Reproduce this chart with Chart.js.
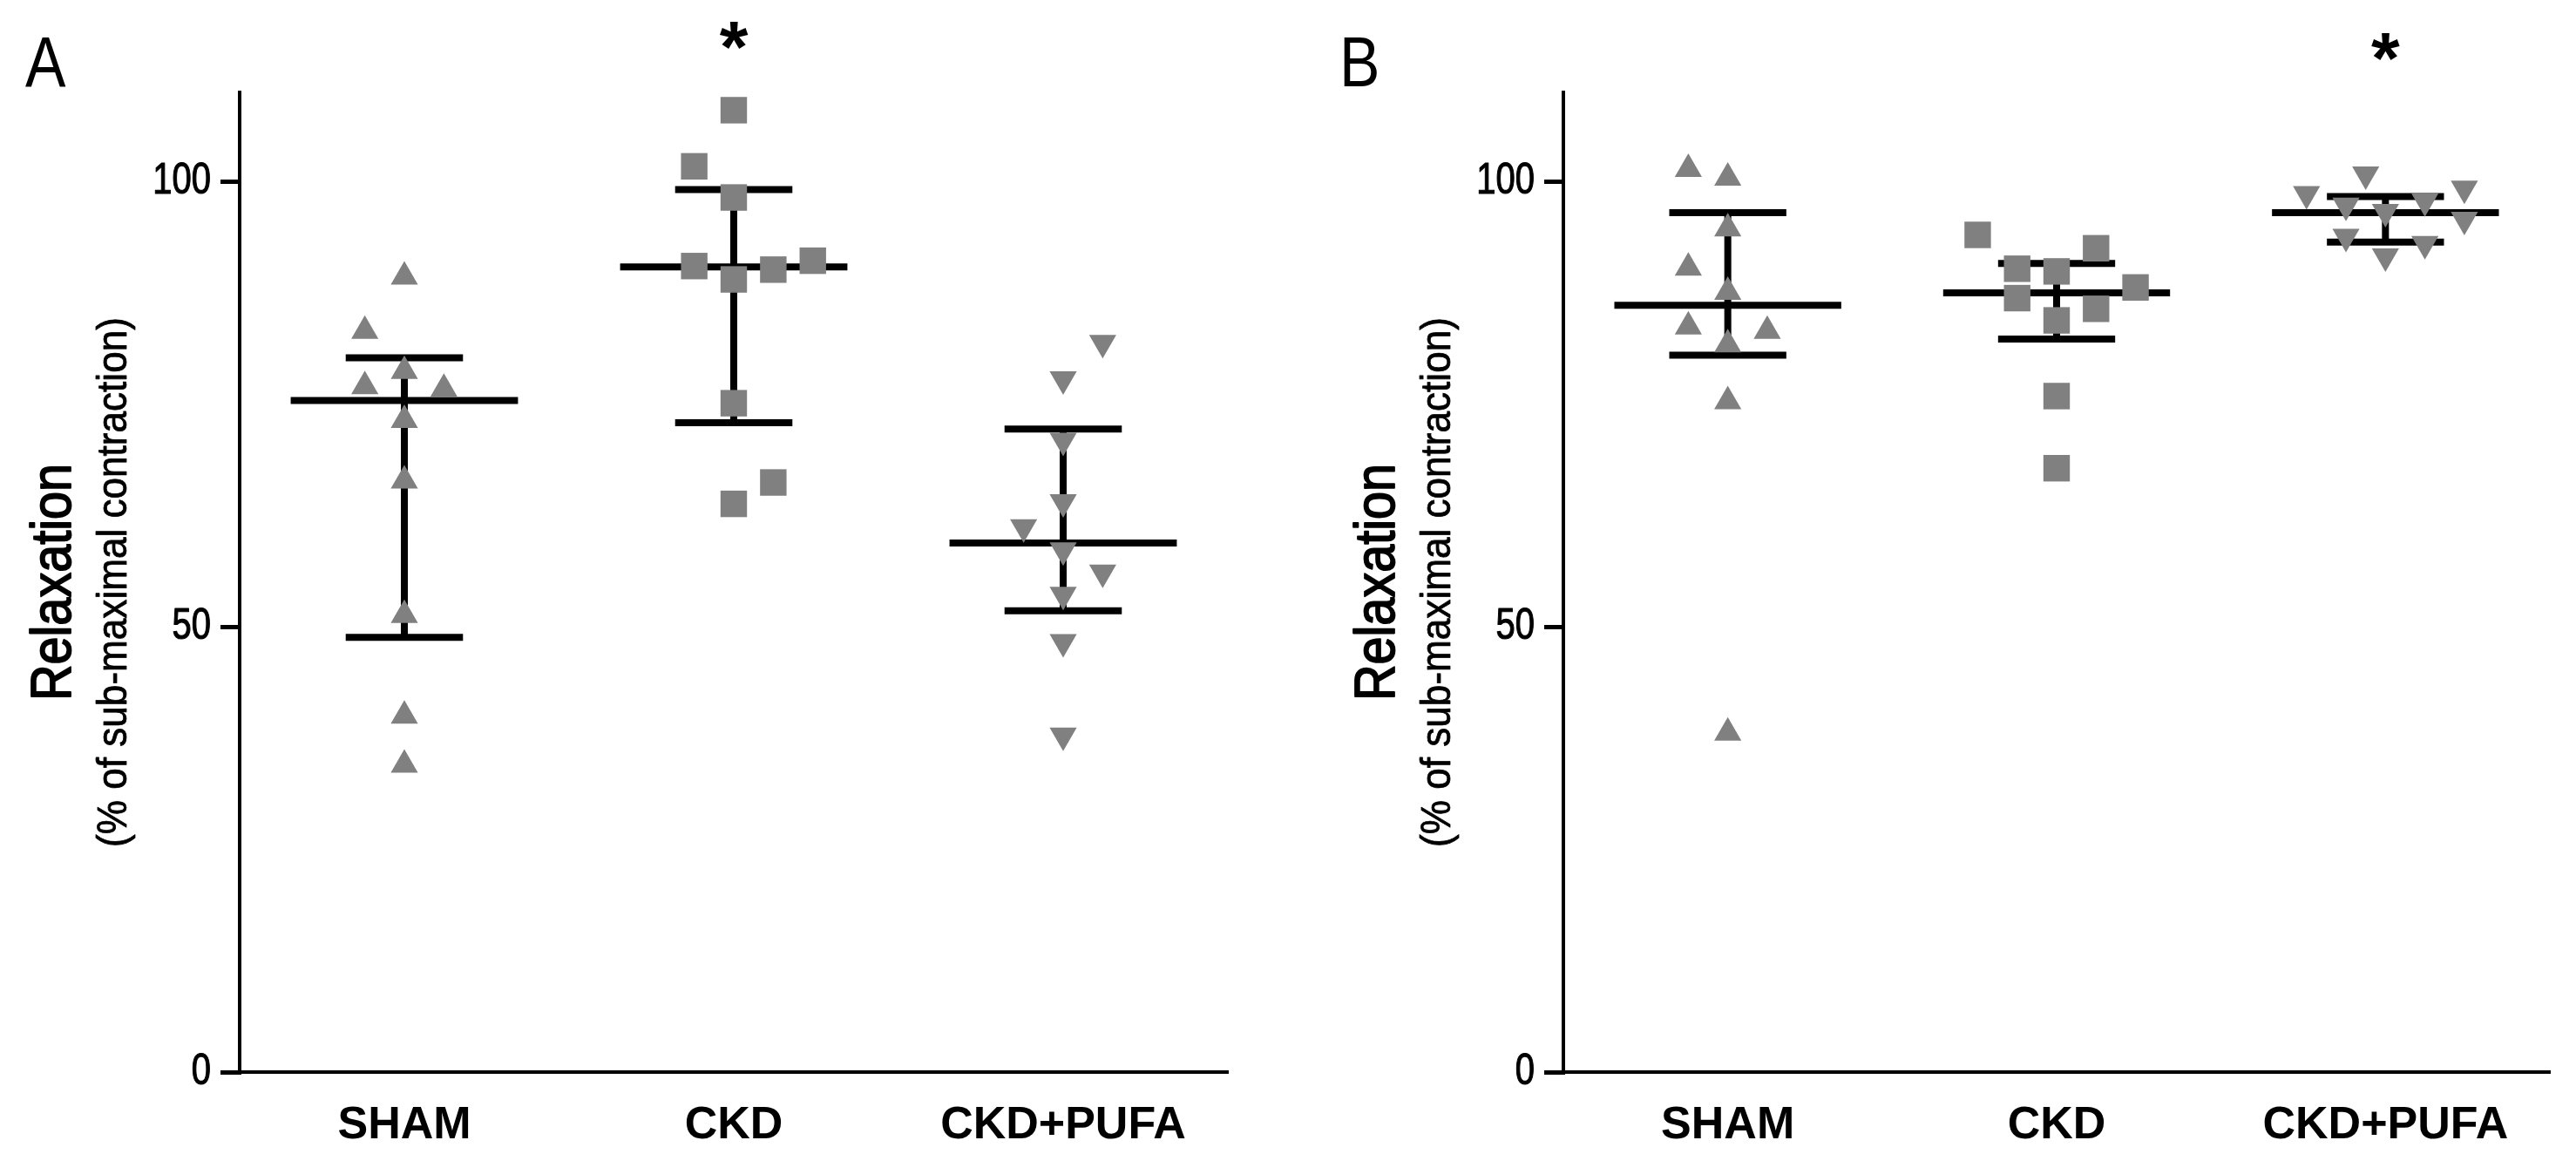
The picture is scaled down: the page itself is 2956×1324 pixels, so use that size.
<!DOCTYPE html>
<html><head><meta charset="utf-8">
<script src="https://cdn.jsdelivr.net/npm/chart.js@4.4.1/dist/chart.umd.min.js"></script>
<style>
html,body{margin:0;padding:0;background:#fff;}
#wrap{position:relative;width:2956px;height:1324px;background:#fff;overflow:hidden;}
canvas{position:absolute;top:0;}
#cA{left:0;} #cB{left:1478px;}
</style></head><body>
<div id="wrap"><canvas id="cA" width="1478" height="1324"></canvas><canvas id="cB" width="1478" height="1324"></canvas></div>
<script>
// ---------- data ----------
const categories = ['SHAM', 'CKD', 'CKD+PUFA'];
const yTickValues = [0, 50, 100];
const yAxisTitle = 'Relaxation';
const yAxisSubtitle = '(% of sub-maximal contraction)';

// Panel A
const aSham      = [89.3, 83.2, 78.7, 77.0, 76.7, 73.2, 66.4, 51.3, 40.0, 34.5];
const aShamSlot  = [0, -1, 0, -1, 1, 0, 0, 0, 0, 0];
const aCkd       = [108.0, 101.7, 98.2, 90.5, 89.0, 90.1, 91.1, 75.1, 66.2, 63.8];
const aCkdSlot   = [0, -1, 0, -1, 0, 1, 2, 0, 1, 0];
const aPufa      = [81.9, 77.8, 70.9, 64.0, 61.2, 58.6, 56.1, 53.6, 48.3, 37.8];
const aPufaSlot  = [1, 0, 0, 0, -1, 0, 1, 0, 0, 0];
const aMean      = [75.4, 90.4, 59.4];
const aUpper     = [80.2, 99.1, 72.2];
const aLower     = [48.8, 72.9, 51.8];
const aSignificant = [false, true, false];

// Panel B
const bSham      = [101.4, 100.4, 94.7, 90.3, 87.6, 83.7, 83.2, 81.7, 75.3, 38.1];
const bShamSlot  = [-1, 0, 0, -1, 0, -1, 1, 0, 0, 0];
const bCkd       = [94.0, 92.5, 90.2, 89.9, 88.1, 86.9, 85.7, 84.4, 75.9, 67.8];
const bCkdSlot   = [-2, 1, -1, 0, 2, -1, 1, 0, 0, 0];
const bPufa      = [100.8, 99.2, 98.6, 97.8, 97.3, 96.6, 95.7, 93.8, 93.0, 91.6];
const bPufaSlot  = [-0.5, 2, -2, 1, -1, 0, 2, -1, 1, 0];
const bMean      = [86.1, 87.5, 96.5];
const bUpper     = [96.5, 90.8, 98.3];
const bLower     = [80.5, 82.3, 93.2];
const bSignificant = [false, false, true];

// ---------- style ----------
const SANS = "'Liberation Sans', Arial, Helvetica, sans-serif";
const GRAY = '#808080';
const SLOT = 0.12, MEAN_HALF = 0.345, CAP_HALF = 0.178;

function scatterPoints(values, slots, groupIndex) {
  return values.map((v, i) => ({ x: groupIndex + 1 + slots[i] * SLOT, y: v }));
}
function errorBarPoints(mean, upper, lower) {
  const pts = [];
  mean.forEach((m, i) => {
    const c = i + 1;
    pts.push({x: c - MEAN_HALF, y: m}, {x: c + MEAN_HALF, y: m}, {x: c, y: null});
    pts.push({x: c - CAP_HALF, y: upper[i]}, {x: c + CAP_HALF, y: upper[i]}, {x: c, y: null});
    pts.push({x: c - CAP_HALF, y: lower[i]}, {x: c + CAP_HALF, y: lower[i]}, {x: c, y: null});
    pts.push({x: c, y: lower[i]}, {x: c, y: upper[i]}, {x: c, y: null});
  });
  return pts;
}

// draws text horizontally condensed by factor k (condensed Helvetica look), optional extra weight
function narrowText(ctx, text, x, y, k, rot, weight) {
  ctx.save();
  ctx.translate(x, y);
  if (rot) ctx.rotate(rot);
  ctx.scale(k, 1);
  ctx.fillText(text, 0, 0);
  if (weight) { ctx.lineWidth = weight; ctx.strokeStyle = '#000'; ctx.lineJoin = 'round'; ctx.strokeText(text, 0, 0); }
  ctx.restore();
}

const panelText = {
  id: 'panelText',
  afterDraw(chart, args, opts) {
    const ctx = chart.ctx, ca = chart.chartArea, xs = chart.scales.x, ys = chart.scales.y;
    ctx.save();
    ctx.fillStyle = '#000';
    // panel letter
    ctx.font = '82px ' + SANS;
    ctx.textAlign = 'left'; ctx.textBaseline = 'alphabetic';
    narrowText(ctx, opts.letter, opts.letterX, 99, 0.85, 0, 0);
    // y tick labels
    ctx.font = '50px ' + SANS;
    ctx.textAlign = 'right'; ctx.textBaseline = 'middle';
    yTickValues.forEach(v => narrowText(ctx, String(v), ca.left - 33, ys.getPixelForValue(v), 0.8, 0, 1.2));
    // y axis titles
    const cy = (ca.top + ca.bottom) / 2;
    ctx.textAlign = 'center'; ctx.textBaseline = 'middle';
    ctx.font = '64px ' + SANS;
    narrowText(ctx, yAxisTitle, ca.left - 212, cy, 0.9, -Math.PI / 2, 1.8);
    ctx.font = '49px ' + SANS;
    narrowText(ctx, yAxisSubtitle, ca.left - 144, cy, 0.9, -Math.PI / 2, 0.8);
    // significance asterisks
    ctx.font = 'bold 84px ' + SANS;
    ctx.textAlign = 'center'; ctx.textBaseline = 'alphabetic';
    opts.sig.forEach((s, i) => {
      if (!s) return;
      const m = ctx.measureText('*');
      const h = m.actualBoundingBoxAscent - m.actualBoundingBoxDescent;
      ctx.fillText('*', xs.getPixelForValue(i + 1), opts.starY + h / 2);
    });
    ctx.restore();
  }
};

function makeChart(id, d) {
  return new Chart(document.getElementById(id), {
    type: 'scatter',
    data: {
      datasets: [
        { data: scatterPoints(d.sham, d.shamSlot, 0), pointStyle: 'triangle', pointRadius: 18, backgroundColor: GRAY, borderWidth: 0, clip: false },
        { data: scatterPoints(d.ckd, d.ckdSlot, 1), pointStyle: 'rect', pointRadius: 21.5, backgroundColor: GRAY, borderWidth: 0, clip: false },
        { data: scatterPoints(d.pufa, d.pufaSlot, 2), pointStyle: 'triangle', rotation: 180, pointRadius: 18, backgroundColor: GRAY, borderWidth: 0, clip: false },
        { data: errorBarPoints(d.mean, d.upper, d.lower), showLine: true, spanGaps: false, borderColor: '#000', borderWidth: 8, pointRadius: 0, borderCapStyle: 'butt', fill: false, clip: false }
      ]
    },
    options: {
      responsive: false, animation: false, devicePixelRatio: 1,
      layout: { padding: { left: 0, right: d.padRight, top: 106, bottom: 0 } },
      plugins: {
        legend: { display: false }, tooltip: { enabled: false },
        panelText: { letter: d.letter, letterX: d.letterX, starY: d.starY, sig: d.sig }
      },
      scales: {
        x: {
          type: 'linear', min: 0.5, max: 3.5,
          afterBuildTicks: s => { s.ticks = categories.map((c, i) => ({ value: i + 1 })); },
          afterFit: s => { s.height = 94; },
          grid: { display: false },
          border: { display: true, color: '#000', width: 4 },
          ticks: { autoSkip: false, maxRotation: 0, padding: 22, color: '#000',
                   font: { family: SANS, size: 52, weight: 'bold' },
                   callback: v => categories[v - 1] }
        },
        y: {
          type: 'linear', min: 0, max: 110,
          afterBuildTicks: s => { s.ticks = yTickValues.map(v => ({ value: v })); },
          afterFit: s => { s.width = d.yWidth; },
          grid: { display: true, drawOnChartArea: false, drawTicks: true, tickLength: 22, lineWidth: 5, color: '#000' },
          border: { display: true, color: '#000', width: 4 },
          ticks: { display: false }
        }
      }
    },
    plugins: [panelText]
  });
}

makeChart('cA', { sham: aSham, shamSlot: aShamSlot, ckd: aCkd, ckdSlot: aCkdSlot, pufa: aPufa, pufaSlot: aPufaSlot,
  mean: aMean, upper: aUpper, lower: aLower, sig: aSignificant,
  letter: 'A', letterX: 29, starY: 41, yWidth: 275, padRight: 69 });
makeChart('cB', { sham: bSham, shamSlot: bShamSlot, ckd: bCkd, ckdSlot: bCkdSlot, pufa: bPufa, pufaSlot: bPufaSlot,
  mean: bMean, upper: bUpper, lower: bLower, sig: bSignificant,
  letter: 'B', letterX: 59, starY: 54, yWidth: 316, padRight: 30 });
</script>
</body></html>
